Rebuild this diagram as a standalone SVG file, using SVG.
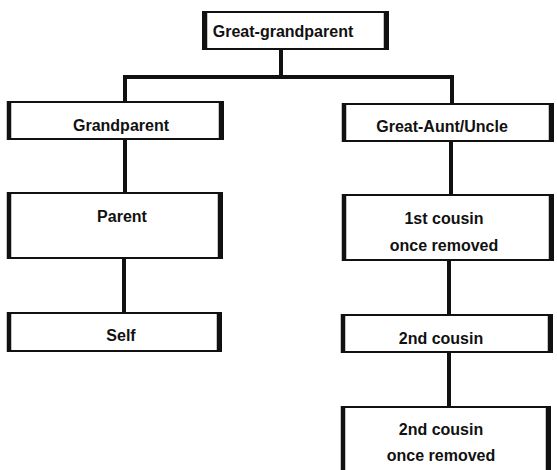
<svg xmlns="http://www.w3.org/2000/svg" width="557" height="470" viewBox="0 0 557 470">
<style>
.box{fill:#fff;stroke:#111;stroke-width:2}
.side{stroke:#111;stroke-width:4.5;stroke-linecap:butt}
.ln{stroke:#111;stroke-width:4;fill:none}
text{font-family:"Liberation Sans",Arial,sans-serif;font-weight:bold;font-size:16px;fill:#111;text-anchor:middle}
</style>
<rect width="557" height="470" fill="#fff"/>
<g id="connectors">
<line class="ln" x1="281" y1="49" x2="281" y2="77"/>
<line class="ln" x1="123" y1="77" x2="454" y2="77"/>
<line class="ln" x1="125" y1="75" x2="125" y2="102"/>
<line class="ln" x1="452" y1="75" x2="452" y2="104"/>
<line class="ln" x1="125" y1="139" x2="125" y2="193"/>
<line class="ln" x1="124" y1="258" x2="124" y2="313"/>
<line class="ln" x1="451" y1="141" x2="451" y2="195"/>
<line class="ln" x1="449" y1="260" x2="449" y2="315"/>
<line class="ln" x1="449" y1="352" x2="449" y2="407"/>
</g>
<g id="great-grandparent">
<rect class="box" x="203" y="12" width="185" height="37"/>
<line class="side" x1="205" y1="11" x2="205" y2="50"/>
<line class="side" x1="386" y1="11" x2="386" y2="50"/>
<text x="283" y="37">Great-grandparent</text>
</g>
<g id="grandparent">
<rect class="box" x="8" y="102" width="215" height="37"/>
<line class="side" x1="9" y1="101" x2="9" y2="140"/>
<line class="side" x1="221" y1="101" x2="221" y2="140"/>
<text x="121" y="131">Grandparent</text>
</g>
<g id="parent">
<rect class="box" x="8" y="193" width="214" height="65"/>
<line class="side" x1="9" y1="192" x2="9" y2="259"/>
<line class="side" x1="220" y1="192" x2="220" y2="259"/>
<text x="122" y="222">Parent</text>
</g>
<g id="self">
<rect class="box" x="8" y="313" width="213" height="38"/>
<line class="side" x1="9" y1="312" x2="9" y2="352"/>
<line class="side" x1="219" y1="312" x2="219" y2="352"/>
<text x="121" y="341">Self</text>
</g>
<g id="great-aunt-uncle">
<rect class="box" x="343" y="104" width="210" height="37"/>
<line class="side" x1="344" y1="103" x2="344" y2="142"/>
<line class="side" x1="551" y1="103" x2="551" y2="142"/>
<text x="442" y="132">Great-Aunt/Uncle</text>
</g>
<g id="first-cousin-once-removed">
<rect class="box" x="343" y="195" width="210" height="65"/>
<line class="side" x1="344" y1="194" x2="344" y2="261"/>
<line class="side" x1="551" y1="194" x2="551" y2="261"/>
<text x="444" y="224">1st cousin</text>
<text x="444" y="251">once removed</text>
</g>
<g id="second-cousin">
<rect class="box" x="342" y="315" width="210" height="37"/>
<line class="side" x1="343" y1="314" x2="343" y2="353"/>
<line class="side" x1="550" y1="314" x2="550" y2="353"/>
<text x="441" y="344">2nd cousin</text>
</g>
<g id="second-cousin-once-removed">
<rect class="box" x="342" y="407" width="208" height="66"/>
<line class="side" x1="343" y1="406" x2="343" y2="472"/>
<line class="side" x1="548" y1="406" x2="548" y2="472"/>
<text x="441" y="435">2nd cousin</text>
<text x="441" y="461">once removed</text>
</g>
</svg>
